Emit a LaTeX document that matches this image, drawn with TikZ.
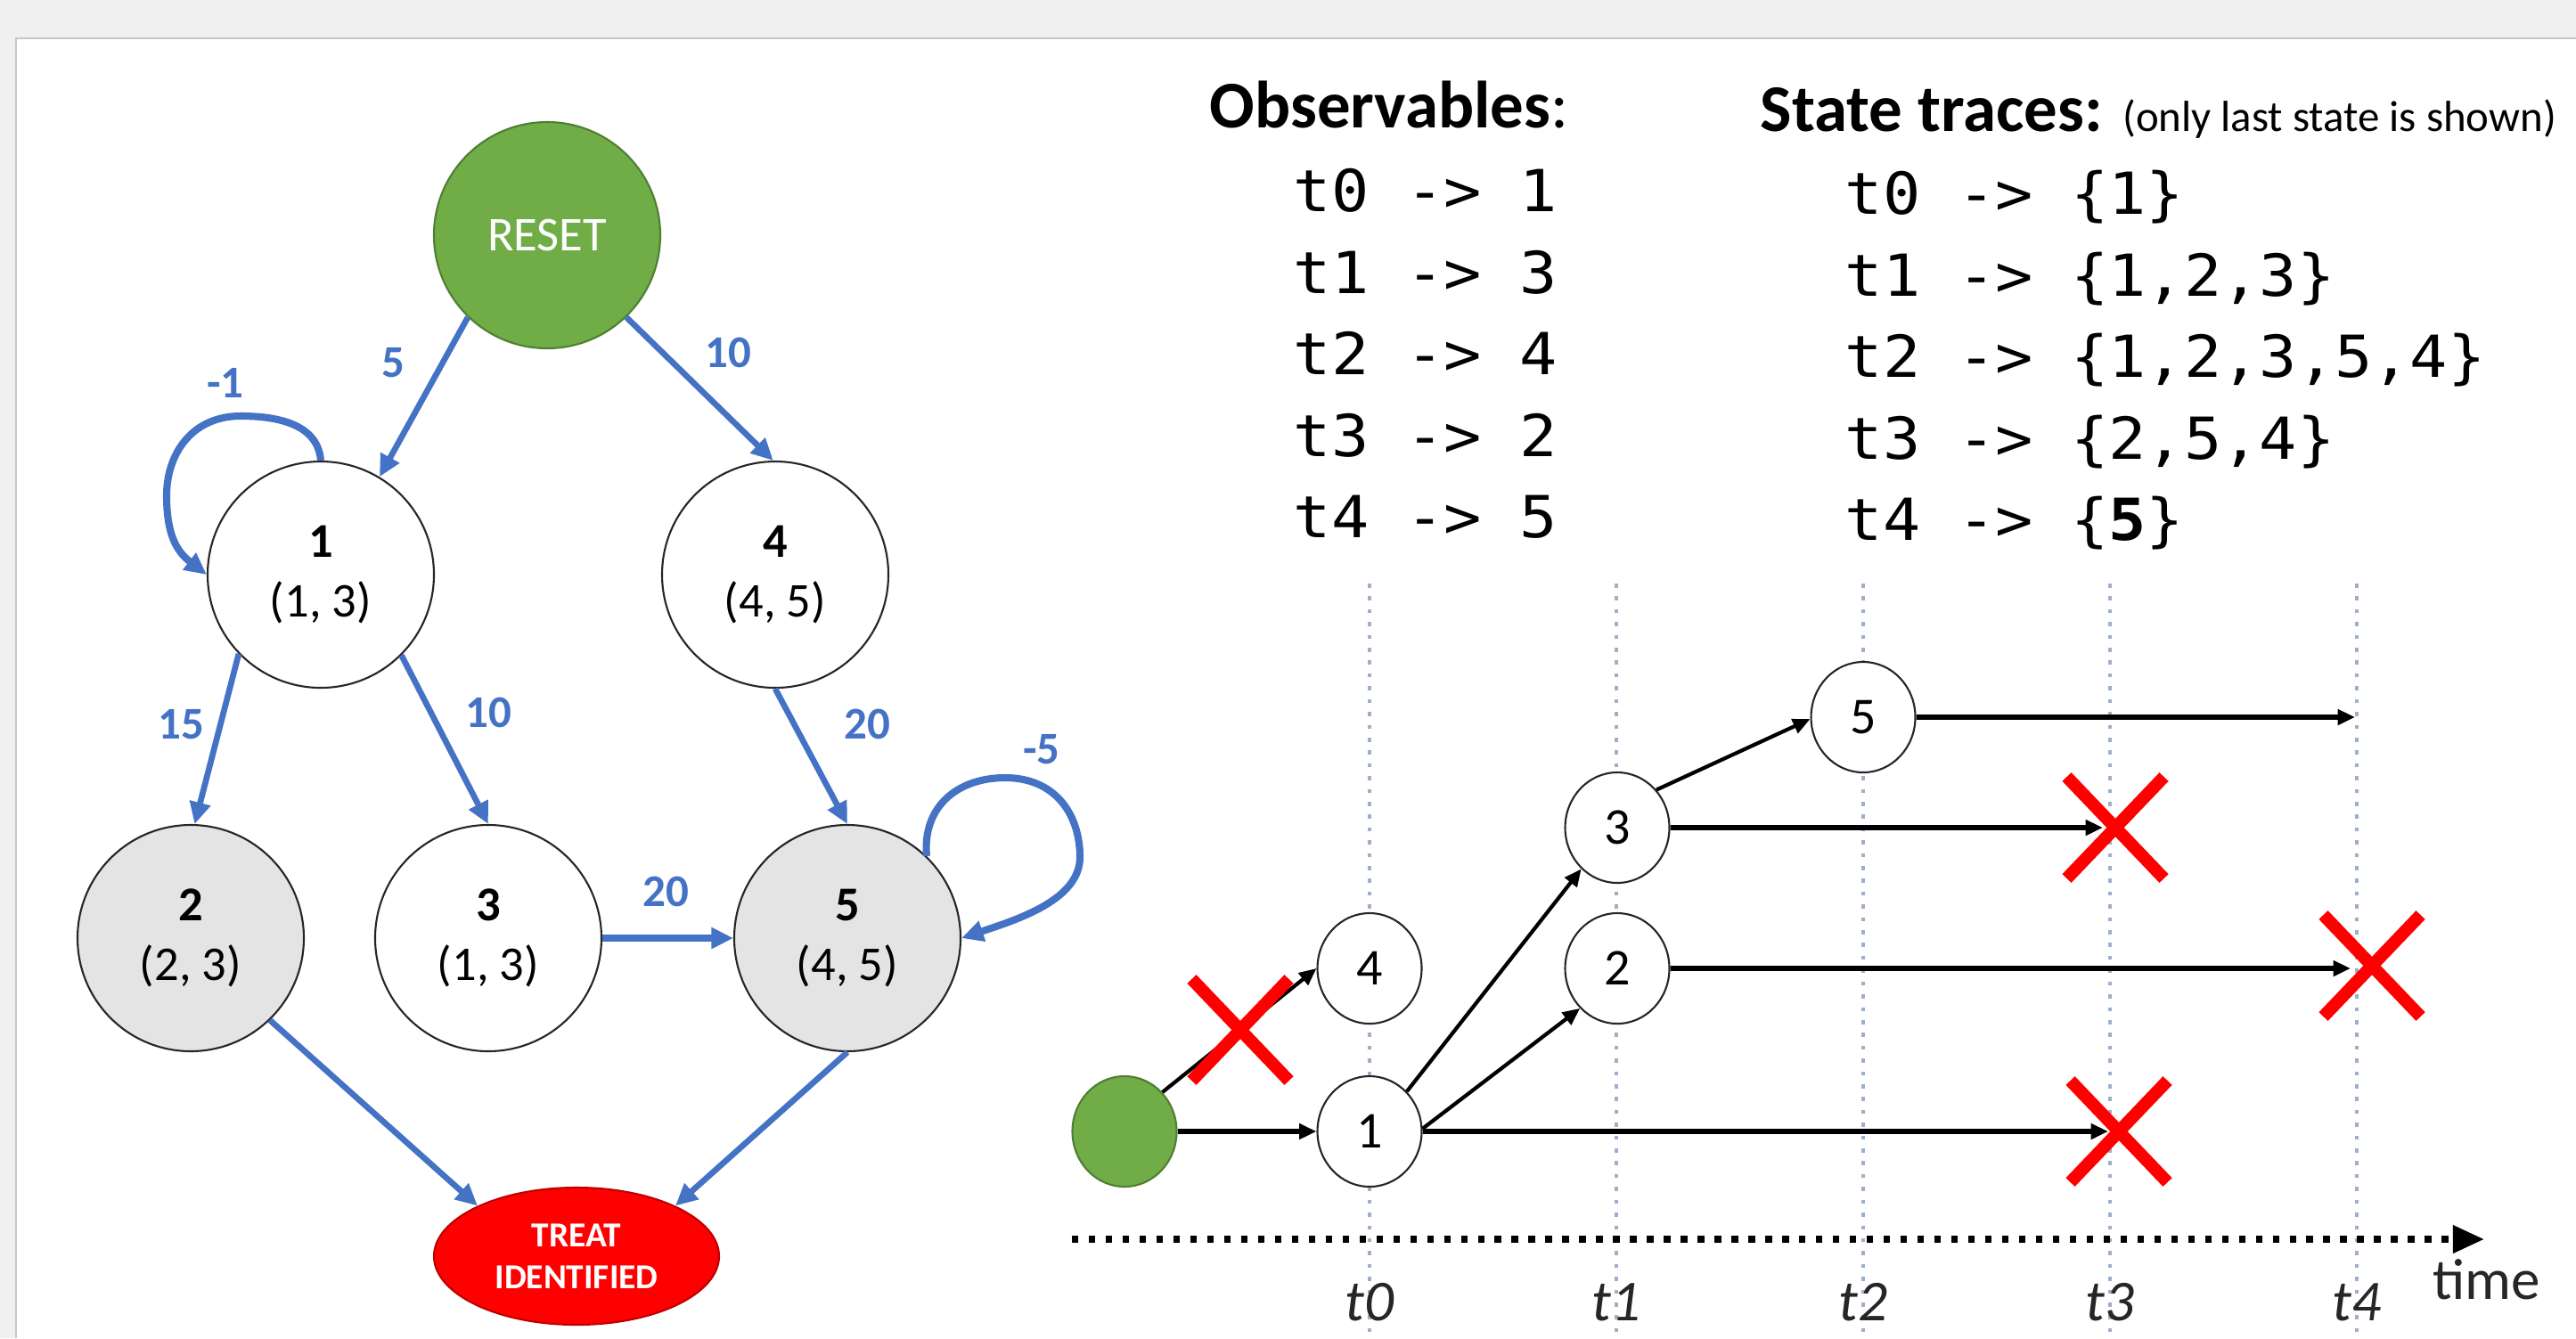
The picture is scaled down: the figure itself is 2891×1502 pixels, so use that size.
\documentclass[tikz,border=0pt]{standalone}
\usepackage{fontspec}
\setmainfont{Carlito}
\newfontfamily\monofnt[FakeStretch=1.08]{DejaVu Sans Mono}
\usetikzlibrary{arrows.meta,shapes.geometric,shapes.misc}
\definecolor{eblue}{HTML}{4472C4}
\definecolor{rgreen}{HTML}{70AD47}
\definecolor{rgreend}{HTML}{507E32}
\definecolor{ngray}{HTML}{E4E4E4}
\definecolor{bgray}{HTML}{F0F0F0}
\definecolor{bline}{HTML}{C8C8C8}
\definecolor{tline}{HTML}{9EAFCB}
\definecolor{tred}{HTML}{FF0000}
\definecolor{tredd}{HTML}{C00000}
\tikzset{
  st/.style={circle, draw=black!85, line width=0.6pt, minimum size=25.4mm, inner sep=0pt, align=center, font=\fontsize{15.5}{19}\selectfont},
  be/.style={draw=eblue, line width=1.9pt, -{Triangle[length=7pt,width=6.5pt]}},
  el/.style={text=eblue, font=\fontsize{14.5}{17}\selectfont\bfseries, inner sep=0pt},
  tn/.style={ellipse, draw=black!85, line width=0.6pt, minimum width=11.7mm, minimum height=12.4mm, inner sep=0pt, fill=white, font=\fontsize{16.5}{20}\selectfont},
  ta/.style={draw=black, line width=1.5pt, -{Triangle[length=5.5pt,width=4.8pt]}},
  tad/.style={draw=black, line width=1.2pt, -{Triangle[length=5.5pt,width=4.8pt]}},
  xm/.style={cross out, draw=tred, line width=4pt, minimum width=9.5mm, minimum height=10mm, inner sep=0pt},
  mono/.style={anchor=base west, inner sep=0pt, font=\fontsize{18.5}{22}\selectfont\monofnt},
  vline/.style={draw=tline, line width=1.3pt, dash pattern=on 1.3pt off 2.8pt},
  tlab/.style={anchor=base, inner sep=0pt, font=\fontsize{18.5}{22}\selectfont\itshape, text=black!85}
}
\begin{document}
\begin{tikzpicture}[x=0.1mm,y=-0.1mm]
\useasboundingbox (0,0) rectangle (2891,1502);
\clip (0,0) rectangle (2891,1502);
% background
\fill[bgray] (0,0) rectangle (2891,1502);
\fill[white] (18,43) rectangle (2891,1502);
\draw[bline, line width=0.8pt] (18,1502) -- (18,43) -- (2891,43);

% ---------- left graph ----------
\node[circle, fill=rgreen, draw=rgreend, line width=0.6pt, minimum size=25.4mm, inner sep=0pt, text=white, font=\fontsize{15.5}{18}\selectfont] (R) at (614,264) {RESET};
\node[st] (n1) at (360,645) {\textbf{1}\\(1, 3)};
\node[st] (n4) at (870,645) {\textbf{4}\\(4, 5)};
\node[st, fill=ngray] (n2) at (214,1053) {\textbf{2}\\(2, 3)};
\node[st] (n3) at (548,1053) {\textbf{3}\\(1, 3)};
\node[st, fill=ngray] (n5) at (951,1053) {\textbf{5}\\(4, 5)};
\node[ellipse, fill=tred, draw=tredd, line width=0.6pt, minimum width=32mm, minimum height=15.4mm, inner sep=0pt, text=white, align=center, font=\fontsize{11.2}{13.3}\selectfont\bfseries] (T) at (647,1410) {TREAT\\IDENTIFIED};

\draw[be] (R.226) -- (n1.59);
\draw[be] (R.-46) -- (n4.91);
\draw[be] (n1.224) -- (n2.88);
\draw[be] (n1.-45) -- (n3.90);
\draw[be] (n4.-90) -- (n5.90);
\draw[be, line width=2.4pt] (n3.east) -- (n5.west);
\draw[be] (n2.-46) -- (T.153);
\draw[be] (n5.-90) -- (T.27);
\draw[be, line width=2.3pt] (n1.90) .. controls (357,480) and (320,467) .. (270,467)
   .. controls (215,467) and (187,510) .. (187,556)
   .. controls (187,598) and (197,618) .. (n1.180);
\draw[be, line width=2.3pt] (n5.46) .. controls (1035,905) and (1075,873) .. (1128,873)
   .. controls (1185,873) and (1212,915) .. (1212,962)
   .. controls (1212,1010) and (1142,1032) .. (n5.0);

\node[el] (l5) at (441,407) {5};
\node[el] (l10a) at (817,396) {10};
\node[el] (lm1) at (253,430) {-1};
\node[el] (l15) at (203,813) {15};
\node[el] (l10b) at (548,800) {10};
\node[el] (l20a) at (973,813) {20};
\node[el] (lm5) at (1169,841) {-5};
\node[el] (l20b) at (747,1001) {20};

% ---------- text lists ----------
\node[anchor=base west, inner sep=0pt, font=\fontsize{21.3}{25}\selectfont] (obs) at (1357,143) {\textbf{Observables}:};
\node[anchor=base west, inner sep=0pt, font=\fontsize{21.3}{25}\selectfont] (sth) at (1975,147) {\textbf{State traces:} {\fontsize{13.9}{16}\selectfont(only last state is shown)}};

\node[mono] (o0) at (1451,237) {t0 -> 1};
\node[mono] (o1) at (1451,329) {t1 -> 3};
\node[mono] (o2) at (1451,420) {t2 -> 4};
\node[mono] (o3) at (1451,512) {t3 -> 2};
\node[mono] (o4) at (1451,603) {t4 -> 5};
\node[mono] (s0) at (2070,240) {t0 -> \{1\}};
\node[mono] (s1) at (2070,332) {t1 -> \{1,2,3\}};
\node[mono] (s2) at (2070,423) {t2 -> \{1,2,3,5,4\}};
\node[mono] (s3) at (2070,515) {t3 -> \{2,5,4\}};
\node[mono] (s4) at (2070,606) {t4 -> \{\textbf{5}\}};

% ---------- timeline ----------
\foreach \xx in {1537,1814,2091,2368,2645} {
  \draw[vline] (\xx,655) -- (\xx,1502);
}
\draw[line width=2.1pt, dash pattern=on 2.1pt off 3.3pt, -{Triangle[length=10pt,width=8.5pt,sep=0pt]}] (1203,1391) -- (2788,1391);
\node[anchor=base west, inner sep=0pt, text=black!85, font=\fontsize{18.5}{22}\selectfont] (time) at (2730,1458) {time};
\node[tlab] (tl0) at (1537,1482) {t0};
\node[tlab] (tl1) at (1814,1482) {t1};
\node[tlab] (tl2) at (2091,1482) {t2};
\node[tlab] (tl3) at (2368,1482) {t3};
\node[tlab] (tl4) at (2645,1482) {t4};

\node[ellipse, fill=rgreen, draw=rgreend, line width=0.6pt, minimum width=11.7mm, minimum height=12.4mm, inner sep=0pt] (g) at (1262,1270) {};
\node[tn] (m1) at (1537,1270) {1};
\node[tn] (m4) at (1537,1087) {4};
\node[tn] (m2) at (1815,1087) {2};
\node[tn] (m3) at (1815,929) {3};
\node[tn] (m5) at (2091,805) {5};

\coordinate (e1) at (2366,1270);
\coordinate (e2) at (2638,1087);
\coordinate (e3) at (2360,929);
\coordinate (e5) at (2643,805);

\draw[ta] (g.east) -- (m1.west);
\draw[tad] (g.46) -- (m4.west);
\draw[tad] (m1.47) -- (m3.229);
\draw[tad] (m1.3) -- (m2.227);
\draw[tad] (m3.44) -- (m5.182);
\draw[ta] (m1.east) -- (e1);
\draw[ta] (m2.east) -- (e2);
\draw[ta] (m3.east) -- (e3);
\draw[ta] (m5.east) -- (e5);

\node[xm] (xa) at (1392,1156) {};
\node[xm] (xb) at (2374,929) {};
\node[xm] (xc) at (2662,1084) {};
\node[xm] (xd) at (2378,1270) {};
\end{tikzpicture}
\end{document}
